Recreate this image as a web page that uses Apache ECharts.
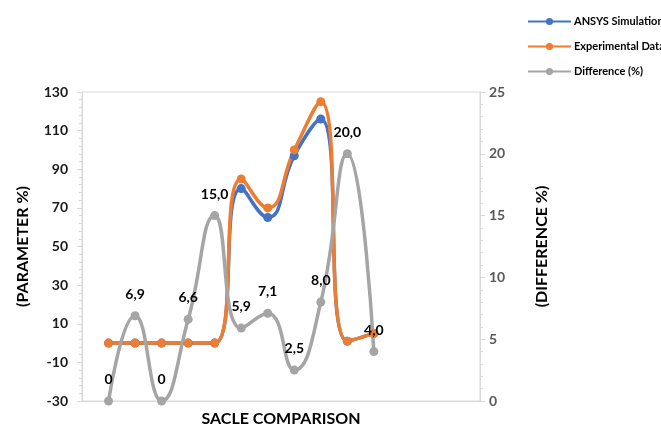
<!DOCTYPE html>
<html>
<head>
<meta charset="utf-8">
<script src="https://cdn.jsdelivr.net/npm/echarts@6/dist/echarts.min.js"></script>
<style>
  html, body { margin: 0; padding: 0; background: #fff; }
  #chart { width: 661px; height: 432px; }
</style>
</head>
<body>
<div id="chart"></div>
<script>
// Comparison points (positions along the scale)
const points = [1, 2, 3, 4, 5, 6, 7, 8, 9, 10, 11];

// Parameter values (%)
const ansysSimulation = [0, 0, 0, 0, 0, 80, 65, 97, 116, 1, 5];
const experimentalData = [0, 0, 0, 0, 0, 85, 70, 100, 125, 1, 5];

// Difference between the two (%)
const difference = [0, 6.9, 0, 6.6, 15.0, 5.9, 7.1, 2.5, 8.0, 20.0, 4.0];

// Axis ticks
const leftTicks = { min: -30, max: 130, step: 20 };
const rightTicks = { min: 0, max: 25, step: 5 };

const FONT = 'Lato';
const pairs = (ys) => ys.map((y, i) => [points[i], y]);
const fmtDiff = (v) => (v === 0 ? '0' : v.toFixed(1).replace('.', ','));

const chart = echarts.init(document.getElementById('chart'));

const lineSeries = (name, color, data, yAxisIndex, extra) => Object.assign({
  name: name,
  type: 'line',
  yAxisIndex: yAxisIndex,
  data: data,
  smooth: 0.5,
  symbol: 'circle',
  symbolSize: 9,
  lineStyle: { color: color, width: 3.5 },
  itemStyle: { color: color },
  emphasis: { disabled: true },
  animation: false
}, extra || {});

chart.setOption({
  animation: false,
  textStyle: { fontFamily: FONT },
  grid: {
    left: 82, right: 181, top: 92, bottom: 27,
    show: true, borderColor: '#d9d9d9', borderWidth: 1, backgroundColor: 'transparent'
  },
  legend: {
    orient: 'vertical',
    left: 522,
    top: 11,
    itemWidth: 43,
    itemHeight: 9,
    itemGap: 14,
    data: ['ANSYS Simulation', 'Experimental Data', 'Difference (%)'],
    textStyle: { fontFamily: FONT, fontWeight: 'bold', fontSize: 11, color: '#000', padding: [0, 0, 0, -2] }
  },
  xAxis: {
    type: 'value',
    min: 0,
    max: 15,
    name: 'SACLE COMPARISON',
    nameLocation: 'middle',
    nameGap: 10,
    nameTextStyle: { fontFamily: FONT, fontWeight: 'bold', fontSize: 16, color: '#000' },
    axisLine: { show: true, onZero: false, lineStyle: { color: '#d9d9d9', width: 1 } },
    axisTick: { show: false },
    axisLabel: { show: false },
    splitLine: { show: false }
  },
  yAxis: [
    {
      type: 'value',
      position: 'left',
      min: leftTicks.min,
      max: leftTicks.max,
      interval: leftTicks.step,
      name: '(PARAMETER %)',
      nameLocation: 'middle',
      nameGap: 51,
      nameRotate: 90,
      nameTextStyle: { fontFamily: FONT, fontWeight: 'bold', fontSize: 16, color: '#000' },
      axisLine: { show: true, lineStyle: { color: '#d9d9d9', width: 1 } },
      axisTick: { show: true, length: 5, lineStyle: { color: '#d9d9d9' } },
      minorTick: { show: true, splitNumber: 5, length: 3, lineStyle: { color: '#d9d9d9' } },
      axisLabel: { fontFamily: FONT, fontWeight: 'bold', fontSize: 14, color: '#1a1a1a', margin: 14 },
      splitLine: { show: false }
    },
    {
      type: 'value',
      position: 'right',
      min: rightTicks.min,
      max: rightTicks.max,
      interval: rightTicks.step,
      name: '(DIFFERENCE %)',
      nameLocation: 'middle',
      nameGap: 54,
      nameRotate: 90,
      nameTextStyle: { fontFamily: FONT, fontWeight: 'bold', fontSize: 16, color: '#000' },
      axisLine: { show: true, lineStyle: { color: '#d9d9d9', width: 1 } },
      axisTick: { show: true, length: 5, lineStyle: { color: '#d9d9d9' } },
      minorTick: { show: true, splitNumber: 5, length: 3, lineStyle: { color: '#d9d9d9' } },
      axisLabel: { fontFamily: FONT, fontWeight: 'bold', fontSize: 14, color: '#595959', margin: 9 },
      splitLine: { show: false }
    }
  ],
  series: [
    lineSeries('ANSYS Simulation', '#4472c4', pairs(ansysSimulation), 0),
    lineSeries('Experimental Data', '#ed7d31', pairs(experimentalData), 0),
    lineSeries('Difference (%)', '#a5a5a5', pairs(difference), 1, {
      label: {
        show: true,
        position: 'top',
        distance: 10,
        fontFamily: FONT,
        fontWeight: 'bold',
        fontSize: 14,
        color: '#000',
        formatter: (p) => fmtDiff(p.value[1])
      }
    })
  ]
});
</script>
</body>
</html>
